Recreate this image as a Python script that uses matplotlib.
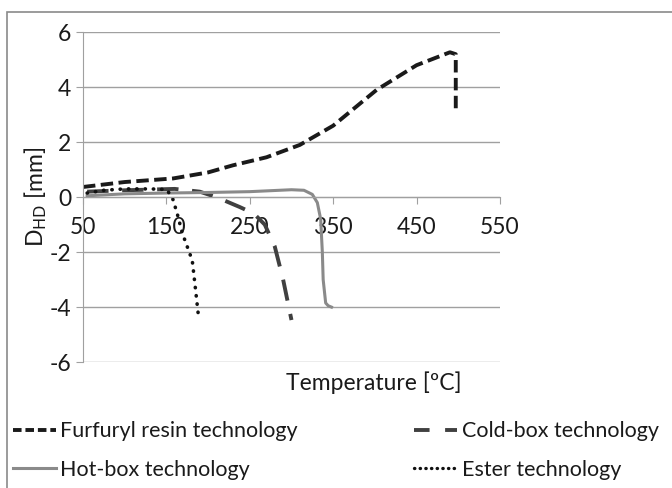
import matplotlib.pyplot as plt
from matplotlib.patches import Rectangle
from matplotlib.lines import Line2D

plt.rcParams['font.family'] = ['Lato', 'DejaVu Sans']
plt.rcParams['axes.unicode_minus'] = False

# Furfuryl resin technology
furf_t = [50, 100, 158, 200, 230, 270, 310, 350, 402, 450, 490, 497, 497]
furf_d = [0.37, 0.55, 0.68, 0.9, 1.16, 1.45, 1.9, 2.6, 3.9, 4.8, 5.27, 5.2, 3.1]
# Cold-box technology
cold_t = [55, 100, 160, 190, 210, 238, 255, 268, 280, 290, 300]
cold_d = [0.2, 0.25, 0.3, 0.2, 0.0, -0.36, -0.6, -1.0, -1.8, -3.0, -4.47]
# Hot-box technology
hot_t = [55, 100, 150, 200, 250, 300, 315, 325, 331, 335, 337, 338, 341, 344, 348]
hot_d = [0.05, 0.12, 0.15, 0.17, 0.2, 0.27, 0.25, 0.1, -0.2, -0.8, -2.0, -3.0, -3.85, -3.95, -4.0]
# Ester technology
est_t = [55, 75, 100, 130, 150, 157, 163, 169, 175, 181, 184, 188]
est_d = [0.15, 0.25, 0.3, 0.3, 0.28, 0.0, -0.6, -1.3, -1.8, -2.3, -3.1, -4.2]

fig = plt.figure(figsize=(6.72, 4.88), dpi=100)
ax = fig.add_axes([0.1235, 0.258, 0.6205, 0.676])

ax.plot(furf_t, furf_d, color='#1a1a1a', lw=2.8, dashes=(3.2, 1.4))
ax.plot(cold_t, cold_d, color='#404040', lw=2.8, dashes=(5.5, 3.5))
ax.plot(hot_t, hot_d, color='#8a8a8a', lw=2.2)
ax.plot(est_t, est_d, color='#111111', lw=2.6, linestyle=(0, (0.1, 2.2)),
        dash_capstyle='round')

ax.set_xlim(50, 550)
ax.set_ylim(-6, 6)
ax.set_xticks([50, 150, 250, 350, 450, 550])
ax.set_yticks([-6, -4, -2, 0, 2, 4, 6])
ax.grid(axis='y', color='#a0a0a0', lw=1)
ax.set_axisbelow(True)
for s in ['top', 'right']:
    ax.spines[s].set_visible(False)
ax.spines['bottom'].set_position(('data', 0))
ax.spines['bottom'].set_color('#a0a0a0')
ax.spines['left'].set_color('#a0a0a0')
ax.tick_params(axis='both', colors='#a0a0a0', labelcolor='#1a1a1a', labelsize=16.5, length=5)
ax.tick_params(axis='x', pad=9)

ax.set_ylabel(r'D$_{\mathrm{HD}}$ [mm]', fontsize=16.5, color='#1a1a1a', labelpad=0)
fig.text(0.557, 1 - 383 / 488, 'Temperature [ºC]', ha='center', va='center',
         fontsize=16.5, color='#1a1a1a')

# legend order: matplotlib fills columns first
handles = [
    Line2D([], [], color='#1a1a1a', lw=2.8, dashes=(2.2, 1.0)),
    Line2D([], [], color='#8a8a8a', lw=2.2),
    Line2D([], [], color='#404040', lw=2.8, dashes=(4, 4)),
    Line2D([], [], color='#111111', lw=2.4, linestyle=(0, (0.1, 1.6)), dash_capstyle='round'),
]
labels = ['Furfuryl resin technology', 'Hot-box technology',
          'Cold-box technology', 'Ester technology']
fig.legend(handles, labels, loc='upper left', bbox_to_anchor=(0.0, 0.163),
           ncol=2, frameon=False, fontsize=15.5, handlelength=2.0, handletextpad=0.2,
           columnspacing=5.4, labelspacing=0.85, borderaxespad=0.2,
           labelcolor='#1a1a1a')

fig.patches.append(Rectangle((7 / 672, -0.01), 1.0, 1 - 12 / 488 + 0.01,
                             transform=fig.transFigure, fill=False,
                             edgecolor='#8a8a8a', lw=1.2))

fig.savefig('out.png', dpi=100)
